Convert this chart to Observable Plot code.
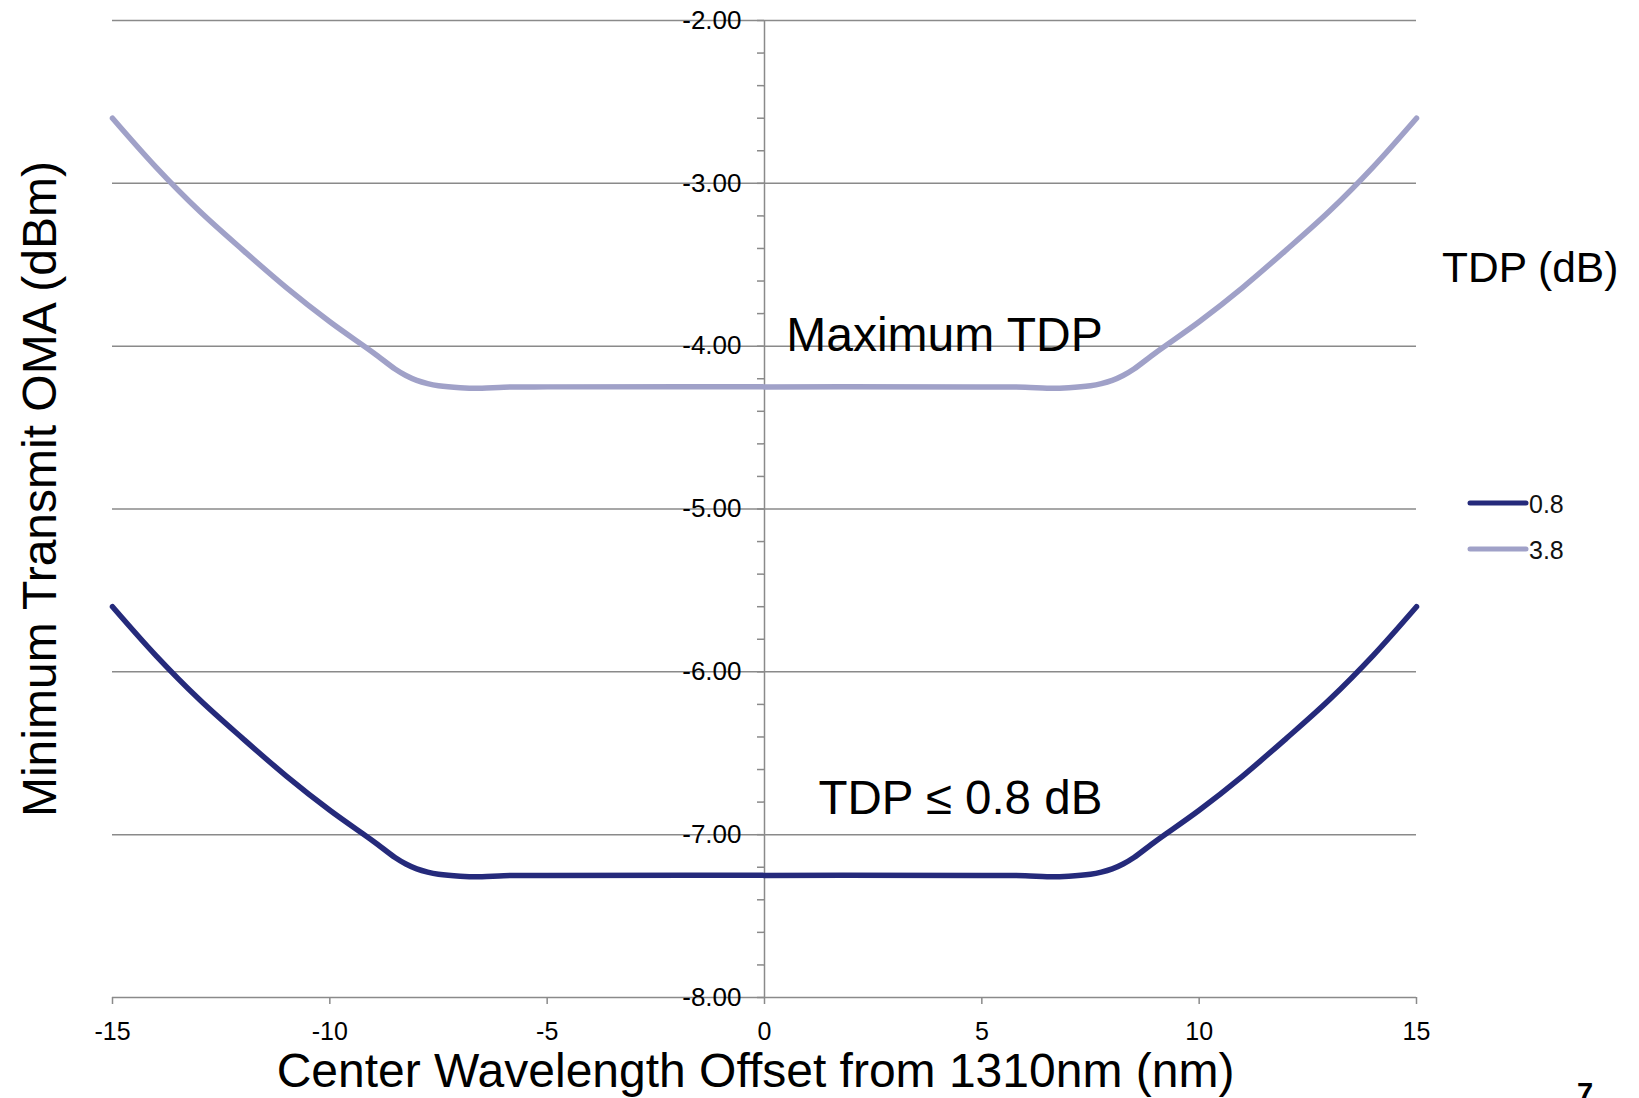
<!DOCTYPE html>
<html><head><meta charset="utf-8">
<script src="https://cdn.jsdelivr.net/npm/d3@7"></script>
<script src="https://cdn.jsdelivr.net/npm/@observablehq/plot@0.6"></script>
<style>
html,body{margin:0;padding:0;background:#fff;}
#wrap{position:relative;width:1639px;height:1098px;overflow:hidden;font-family:"Liberation Sans",Arial,Helvetica,sans-serif;}
#wrap svg.overlay{position:absolute;left:0;top:0;pointer-events:none;}
</style></head><body><div id="wrap"></div>
<script>
const seriesNames = ["0.8", "3.8"];
const seriesColors = ["#252a7b", "#a0a1c8"];
const wavelengthOffset = [-15, -14, -13, -12, -11, -10, -9, -8.5, -8.25, -8, -7.75, -7.5, -7, -6.5, -6, -5, 0, 5, 6, 6.5, 7, 7.5, 7.75, 8, 8.25, 8.5, 9, 10, 11, 12, 13, 14, 15];
const omaTdp08 = [-5.60, -5.90, -6.17, -6.41, -6.64, -6.85, -7.04, -7.14, -7.18, -7.21, -7.23, -7.243, -7.255, -7.258, -7.252, -7.25, -7.25, -7.25, -7.252, -7.258, -7.255, -7.243, -7.23, -7.21, -7.18, -7.14, -7.04, -6.85, -6.64, -6.41, -6.17, -5.90, -5.60];
const omaTdp38 = [-2.60, -2.90, -3.17, -3.41, -3.64, -3.85, -4.04, -4.14, -4.18, -4.21, -4.23, -4.243, -4.255, -4.258, -4.252, -4.25, -4.25, -4.25, -4.252, -4.258, -4.255, -4.243, -4.23, -4.21, -4.18, -4.14, -4.04, -3.85, -3.64, -3.41, -3.17, -2.90, -2.60];
const yTicks = [-2, -3, -4, -5, -6, -7, -8];
const yMinorTicks = d3.range(-8, -1.99, 0.2).map(v => +v.toFixed(1));
const xTicks = [-15, -10, -5, 0, 5, 10, 15];
const xTitle = "Center Wavelength Offset from 1310nm (nm)";
const yTitle = "Minimum Transmit OMA (dBm)";
const legendTitle = "TDP (dB)";
const annotationMax = "Maximum TDP";
const annotationMin = "TDP ≤ 0.8 dB";
const pageNumber = "7";

const FONT = '"Liberation Sans", Arial, Helvetica, sans-serif';
const GRID = "#8a8a8a";

const rows = wavelengthOffset.flatMap((x, i) => [
  {x, y: omaTdp08[i], s: seriesNames[0]},
  {x, y: omaTdp38[i], s: seriesNames[1]}
]);

const chart = Plot.plot({
  width: 1639, height: 1098,
  marginLeft: 112, marginRight: 223, marginTop: 20, marginBottom: 101,
  style: {fontFamily: FONT, background: "#fff", color: "#000", overflow: "visible"},
  x: {domain: [-15, 15]},
  y: {domain: [-8, -2], axis: null},
  color: {domain: seriesNames, range: seriesColors},
  marks: [
    Plot.ruleY(yTicks, {y: d => d, stroke: GRID, strokeWidth: 1.5}),
    Plot.ruleX([0], {x: d => d, y1: -2, y2: -8, stroke: GRID, strokeWidth: 1.5}),
    Plot.ruleY(yMinorTicks, {y: d => d, x1: 0, x2: 0, insetLeft: -7, stroke: GRID, strokeWidth: 1.5}),
    Plot.axisX({ticks: xTicks, tickSize: 7, tickPadding: 18, tickFormat: d => String(d), fontSize: 25, stroke: GRID, strokeWidth: 1.5, label: null}),
    Plot.text(yTicks, {x: 0, y: d => d, text: d => d.toFixed(2), textAnchor: "end", dx: -23, fontSize: 26, fill: "#000"}),
    Plot.line(rows, {x: "x", y: "y", stroke: "s", z: "s", strokeWidth: 5.5, curve: "catmull-rom", strokeLinecap: "round", strokeLinejoin: "round"}),
    Plot.text([annotationMax], {x: 0.5, y: -3.935, text: d => d, textAnchor: "start", lineAnchor: "middle", fontSize: 48, fill: "#000"}),
    Plot.text([annotationMin], {x: 1.24, y: -6.778, text: d => d, textAnchor: "start", lineAnchor: "middle", fontSize: 47.5, fill: "#000"}),
    Plot.text([xTitle], {frameAnchor: "bottom", text: d => d, textAnchor: "middle", lineAnchor: "middle", dy: 74, dx: -9, fontSize: 48, fill: "#000"}),
    Plot.text([yTitle], {frameAnchor: "left", text: d => d, rotate: -90, textAnchor: "middle", lineAnchor: "middle", dx: -72, dy: -20, fontSize: 48, fill: "#000"})
  ]
});

const wrap = document.getElementById("wrap");
wrap.appendChild(chart);

// legend + page number overlay
const ov = d3.select(wrap).append("svg").attr("class", "overlay")
  .attr("width", 1639).attr("height", 1098)
  .style("font-family", FONT);
ov.append("text").attr("x", 1442).attr("y", 282).attr("font-size", 42.5).attr("fill", "#000").text(legendTitle);
seriesNames.forEach((name, i) => {
  const cy = 503 + i * 46;
  ov.append("line").attr("x1", 1470).attr("x2", 1526).attr("y1", cy).attr("y2", cy)
    .attr("stroke", seriesColors[i]).attr("stroke-width", 5).attr("stroke-linecap", "round");
  ov.append("text").attr("x", 1529).attr("y", cy + 10).attr("font-size", 25).attr("fill", "#111").text(name);
});
ov.append("text").attr("x", 1577).attr("y", 1103).attr("font-size", 29).attr("font-weight", "bold").attr("fill", "#000").text(pageNumber);
</script>
</body></html>
